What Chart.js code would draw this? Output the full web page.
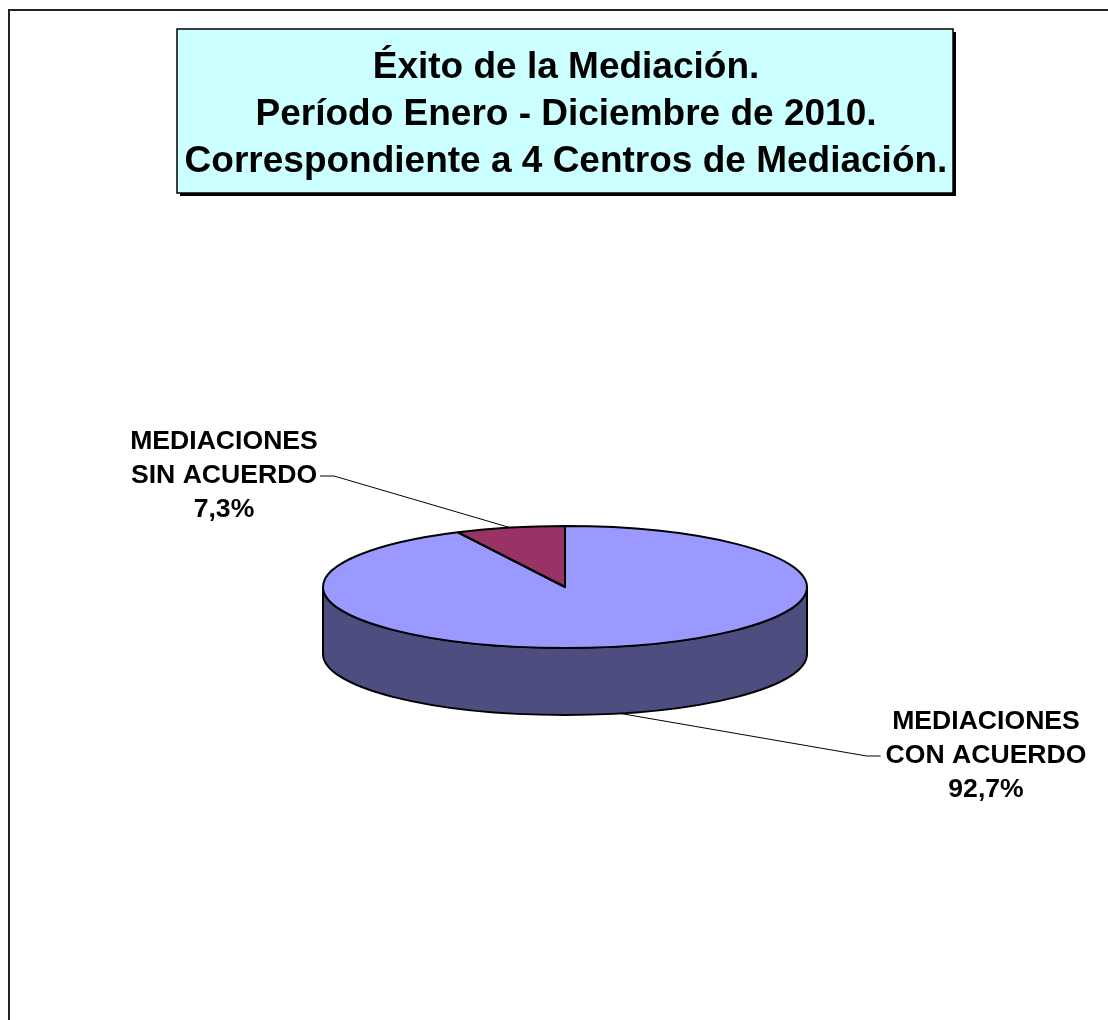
<!DOCTYPE html>
<html>
<head>
<meta charset="utf-8">
<script src="https://cdn.jsdelivr.net/npm/chart.js@4/dist/chart.umd.min.js"></script>
<style>
  html, body { margin: 0; padding: 0; background: #fff; }
  canvas { display: block; }
</style>
</head>
<body>
<canvas id="pie-chart" width="1108" height="1020"></canvas>
<script>
let titleLines = [
  'Éxito de la Mediación.',
  'Período Enero - Diciembre de 2010.',
  'Correspondiente a 4 Centros de Mediación.',
];

let categories = [
  ['MEDIACIONES', 'CON ACUERDO'],
  ['MEDIACIONES', 'SIN ACUERDO'],
];

let percentages = [92.7, 7.3];

let topColors = ['#9999ff', '#993366'];
let sideColors = ['#4d4d7f', '#4d1a33'];

// 3d look: top face squashed, side wall below it
const tilt = 61 / 242;
const depth = 67;
const font = '"Liberation Sans", Arial, sans-serif';

const labelSpots = [
  { x: 986, y: 756, side: 'left' },
  { x: 224, y: 476, side: 'right' },
];

const fmtPct = (v) => v.toFixed(1).replace('.', ',') + '%';

const pie3d = {
  id: 'pie3d',
  beforeDatasetsDraw(chart) {
    let ctx = chart.ctx;
    let arcs = chart.getDatasetMeta(0).data;
    ctx.save();
    arcs.forEach((arc, i) => {
      let rx = arc.outerRadius, ry = rx * tilt;
      for (let k = -1; k <= 1; k++) {
        let a0 = Math.max(arc.startAngle, k * 2 * Math.PI);
        let a1 = Math.min(arc.endAngle, k * 2 * Math.PI + Math.PI);
        if (a1 <= a0) continue;
        ctx.beginPath();
        ctx.ellipse(arc.x, arc.y, rx, ry, 0, a0, a1);
        ctx.ellipse(arc.x, arc.y + depth, rx, ry, 0, a1, a0, true);
        ctx.closePath();
        ctx.fillStyle = sideColors[i];
        ctx.fill();
        ctx.lineWidth = 2;
        ctx.strokeStyle = '#000';
        ctx.stroke();
      }
    });
    ctx.restore();
    // let chart.js paint the slices into a flattened space
    let cy = arcs[0].y;
    ctx.save();
    ctx.translate(0, cy);
    ctx.scale(1, tilt);
    ctx.translate(0, -cy);
  },
  afterDatasetsDraw(chart) {
    let ctx = chart.ctx;
    ctx.restore();
    let arcs = chart.getDatasetMeta(0).data;
    ctx.save();
    ctx.lineWidth = 2;
    ctx.strokeStyle = '#000';
    ctx.lineJoin = 'round';
    arcs.forEach((arc) => {
      let rx = arc.outerRadius, ry = rx * tilt;
      ctx.beginPath();
      ctx.moveTo(arc.x, arc.y);
      ctx.ellipse(arc.x, arc.y, rx, ry, 0, arc.startAngle, arc.endAngle);
      ctx.closePath();
      ctx.stroke();
    });
    ctx.restore();
  },
  afterDraw(chart) {
    let ctx = chart.ctx;
    let arcs = chart.getDatasetMeta(0).data;
    ctx.save();

    // outer frame
    ctx.strokeStyle = '#222';
    ctx.lineWidth = 2;
    ctx.beginPath();
    ctx.moveTo(9, 1020);
    ctx.lineTo(9, 10);
    ctx.lineTo(1108, 10);
    ctx.stroke();

    // title box
    ctx.fillStyle = '#000';
    ctx.fillRect(180, 32, 776, 164);
    ctx.fillStyle = '#ccffff';
    ctx.fillRect(177, 29, 776, 164);
    ctx.lineWidth = 1.5;
    ctx.strokeStyle = '#000';
    ctx.strokeRect(177, 29, 776, 164);
    ctx.fillStyle = '#000';
    ctx.font = 'bold 37px ' + font;
    ctx.textAlign = 'center';
    ctx.textBaseline = 'middle';
    titleLines.forEach((t, i) => ctx.fillText(t, 566, 68 + i * 47));

    // data labels with leader lines
    ctx.font = 'bold 26.6px ' + font;
    arcs.forEach((arc, i) => {
      let spot = labelSpots[i];
      let lines = [...categories[i], fmtPct(percentages[i])];
      lines.forEach((t, j) => ctx.fillText(t, spot.x, spot.y + (j - 1) * 34));
      let half = ctx.measureText(lines[1]).width / 2;
      let mid = (arc.startAngle + arc.endAngle) / 2;
      let rx = arc.outerRadius, ry = rx * tilt;
      let px = arc.x + rx * Math.cos(mid);
      let py = arc.y + ry * Math.sin(mid) + (Math.sin(mid) > 0 ? depth : 0);
      let ex = spot.side === 'left' ? spot.x - half - 5 : spot.x + half + 3;
      let elbow = spot.side === 'left' ? ex - 14 : ex + 14;
      ctx.lineWidth = 1;
      ctx.beginPath();
      ctx.moveTo(px, py);
      ctx.lineTo(elbow, spot.y);
      ctx.lineTo(ex, spot.y);
      ctx.stroke();
    });
    ctx.restore();
  },
};

new Chart(document.getElementById('pie-chart'), {
  type: 'pie',
  data: {
    labels: categories.map((c) => c.join(' ')),
    datasets: [
      {
        data: percentages,
        backgroundColor: topColors,
        borderWidth: 0,
      },
    ],
  },
  options: {
    responsive: false,
    animation: false,
    devicePixelRatio: 1,
    layout: { padding: { left: 323, top: 345, right: 301, bottom: 191 } },
    plugins: {
      legend: { display: false },
      tooltip: { enabled: false },
      title: { display: false },
    },
  },
  plugins: [pie3d],
});
</script>
</body>
</html>
